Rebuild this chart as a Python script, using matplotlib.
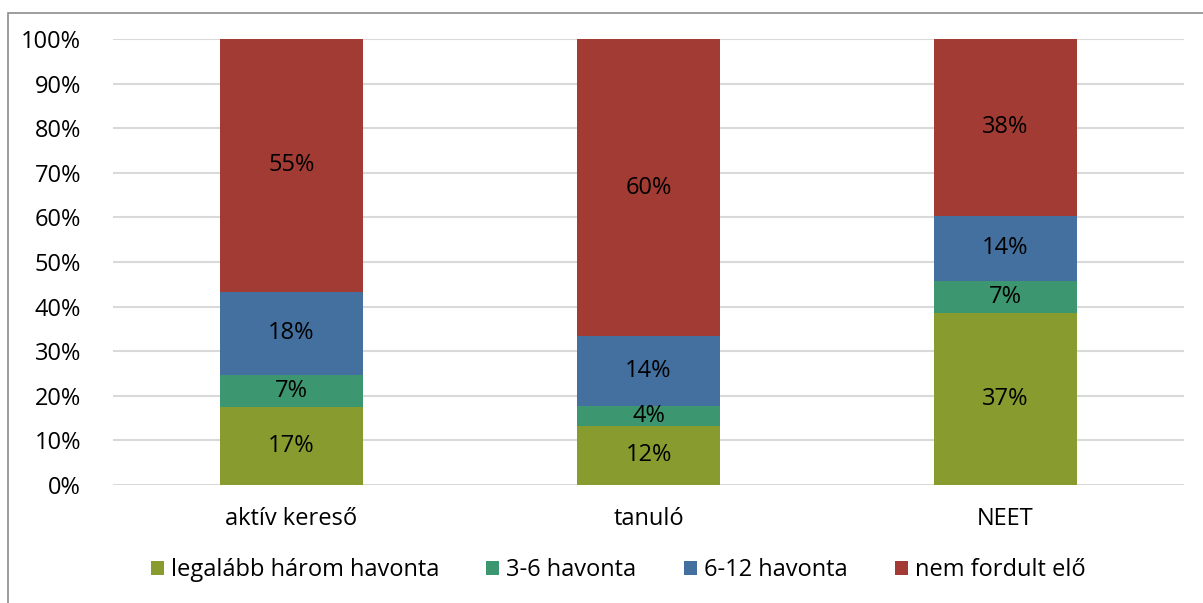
import matplotlib
matplotlib.use("Agg")
import matplotlib.pyplot as plt
import numpy as np
from matplotlib.patches import Rectangle

categories = ['aktív kereső', 'tanuló', 'NEET']
series_names = ['legalább három havonta', '3-6 havonta', '6-12 havonta', 'nem fordult elő']
colors = ['#879B2F', '#3C9670', '#43709E', '#A23B33']

# raw shares as printed in the labels (the chart is a 100% stacked chart)
values = {
    'legalább három havonta': [17, 12, 37],
    '3-6 havonta': [7, 4, 7],
    '6-12 havonta': [18, 14, 14],
    'nem fordult elő': [55, 60, 38],
}

plt.rcParams['font.family'] = ['Open Sans', 'DejaVu Sans']

fig = plt.figure(figsize=(12.03, 6.03), dpi=100)
ax = fig.add_axes([113 / 1203, 1 - 485 / 603, 1071 / 1203, 446 / 603])

# frame around the chart
fig.patches.append(Rectangle((7.5 / 1203, -0.1), 1.2, 1 - 12.5 / 603 + 0.1,
                             transform=fig.transFigure, fill=False,
                             edgecolor='#8c8c8c', linewidth=1.2))

totals = np.sum([values[s] for s in series_names], axis=0)
x = np.arange(len(categories))
bottom = np.zeros(len(categories))
for name, col in zip(series_names, colors):
    raw = np.array(values[name], dtype=float)
    share = raw / totals * 100
    ax.bar(x, share, 0.4, bottom=bottom, color=col, label=name, zorder=3)
    for xi, b, s, r in zip(x, bottom, share, raw):
        ax.text(xi, b + s / 2, f'{int(r)}%', ha='center', va='center',
                fontsize=17, color='#000000', zorder=4)
    bottom += share

ax.set_xlim(-0.5, 2.5)
ax.set_ylim(0, 100)
ax.set_yticks(np.arange(0, 101, 10))
ax.set_yticklabels([f'{v}%' for v in range(0, 101, 10)])
ax.set_xticks(x)
ax.set_xticklabels(categories)
ax.tick_params(axis='both', length=0, labelsize=17, colors='#000000')
ax.tick_params(axis='y', pad=23)
ax.tick_params(axis='x', pad=16)
ax.grid(axis='y', color='#d9d9d9', linewidth=1.5, zorder=0)
for sp in ax.spines.values():
    sp.set_visible(False)

ax.legend(loc='center', bbox_to_anchor=(618 / 1203, 1 - 570 / 603),
          bbox_transform=fig.transFigure, ncol=4, frameon=False,
          fontsize=17, handlelength=0.55, handleheight=0.55,
          handletextpad=0.3, columnspacing=2.0)

fig.savefig('out.png', dpi=100)
